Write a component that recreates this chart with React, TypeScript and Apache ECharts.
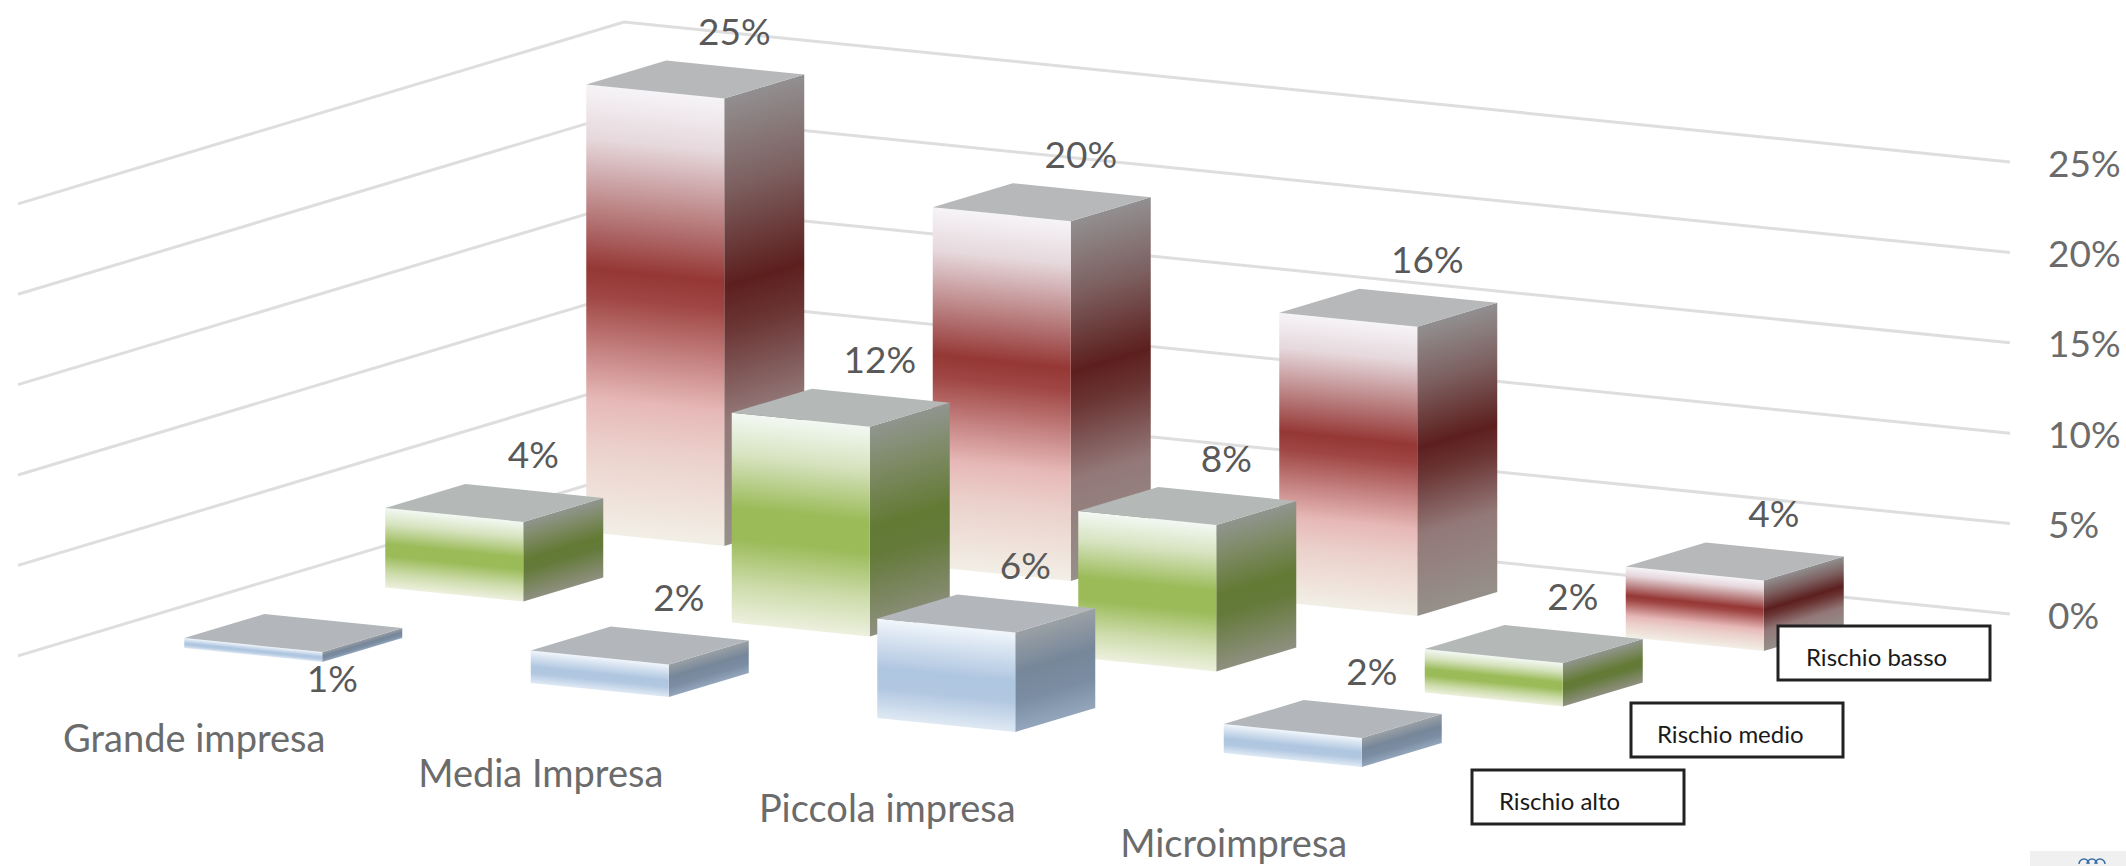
import React, { useEffect, useRef } from "react";
import * as echarts from "echarts";

const categories = ["Grande impresa", "Media Impresa", "Piccola impresa", "Microimpresa"];
const seriesNames = ["Rischio basso", "Rischio medio", "Rischio alto"];
const rischioBasso = [24.75, 19.9, 16, 3.9];
const rischioMedio = [4.4, 11.6, 8.1, 2.4];
const rischioAlto = [0.55, 1.8, 5.5, 1.6];
const axisTicks = [0, 5, 10, 15, 20, 25];

const FONT = "Lato, Carlito, sans-serif";
const SHEAR = 0.101;
const WALL_SLOPE = 0.3;
const W = [138, 14];
const D = [80, -24];
const DEPTH_X = [0, -201, -402];
const DEPTH_Y = [0, 55.5, 116];
const BAR_OFFSET = [-211, 40.5];

const palettes = [
  {
    top: "#b7b8ba",
    front: [[0, "#f6f4f8"], [0.12, "#e6d8dc"], [0.41, "#953735"], [0.47, "#9f4644"], [0.7, "#e6b8b7"], [0.8, "#ebcfca"], [1, "#f2efe6"]],
    side: [[0, "#928f90"], [0.2, "#7d6060"], [0.42, "#5c1f1e"], [0.52, "#6b3635"], [0.72, "#937878"], [1, "#96908a"]],
  },
  {
    top: "#b4b8b6",
    front: [[0, "#f3f8f3"], [0.2, "#d6e3bf"], [0.45, "#9bbb59"], [0.6, "#9bbb59"], [0.82, "#cddcab"], [1, "#edf0de"]],
    side: [[0, "#91958f"], [0.22, "#7d8a64"], [0.48, "#637a35"], [0.62, "#647a3a"], [1, "#8f9080"]],
  },
  {
    top: "#b3b7bb",
    front: [[0, "#f1f6fb"], [0.22, "#d3e0ef"], [0.5, "#afc6e0"], [0.7, "#b2c8e1"], [1, "#dfe9f4"]],
    side: [[0, "#9aa0a5"], [0.4, "#77879a"], [0.7, "#7b8da3"], [1, "#94a6bb"]],
  },
];

// Projects a (category, depth, value) triple through the cartesian axes onto the oblique floor.
function project(api: any, params: any, cat: number, depth: number, v: number) {
  const p = api.coord([cat, v]);
  const rightX = params.coordSys.x + params.coordSys.width;
  return [
    p[0] + BAR_OFFSET[0] + DEPTH_X[depth],
    p[1] - (rightX - p[0]) * SHEAR + BAR_OFFSET[1] + DEPTH_Y[depth],
  ];
}

function skewGradient(start: number[], along: number[], h: number, stops: any[]) {
  const len = Math.hypot(along[0], along[1]);
  const nx = -along[1] / len;
  const ny = along[0] / len;
  const dist = h * ny;
  return {
    type: "linear",
    global: true,
    x: start[0],
    y: start[1],
    x2: start[0] + nx * dist,
    y2: start[1] + ny * dist,
    colorStops: stops.map(([offset, color]) => ({ offset, color })),
  };
}

function barRenderer(depth: number) {
  return (params: any, api: any) => {
    const cat = api.value(0);
    const v = api.value(1);
    const P = project(api, params, cat, depth, v);
    const h = project(api, params, cat, depth, 0)[1] - P[1];
    const pal = palettes[depth];
    const add = (a: number[], b: number[]) => [a[0] + b[0], a[1] + b[1]];
    const down = [0, h];
    const PW = add(P, W);
    const PWD = add(PW, D);
    const PD = add(P, D);
    return {
      type: "group",
      children: [
        {
          type: "polygon",
          shape: { points: [PW, PWD, add(PWD, down), add(PW, down)] },
          style: { fill: skewGradient(PW, D, h, pal.side) },
        },
        {
          type: "polygon",
          shape: { points: [P, PW, add(PW, down), add(P, down)] },
          style: { fill: skewGradient(P, W, h, pal.front) },
        },
        {
          type: "polygon",
          shape: { points: [P, PD, PWD, PW] },
          style: { fill: pal.top },
        },
      ],
    };
  };
}

export default function App() {
  const ref = useRef<HTMLDivElement>(null);
  useEffect(() => {
    document.body.style.margin = "0";
    const chart = echarts.init(ref.current!, undefined, { renderer: "svg" });
    const allSeries = [rischioBasso, rischioMedio, rischioAlto];
    const labelData: any[] = [];
    allSeries.forEach((vals, depth) =>
      vals.forEach((v, i) => labelData.push([categories[i], v, depth]))
    );
    const boxes = [
      { x: 1778, y: 626, tx: 1806, name: seriesNames[0] },
      { x: 1631, y: 703, tx: 1657, name: seriesNames[1] },
      { x: 1472, y: 770, tx: 1499, name: seriesNames[2] },
    ];
    chart.setOption({
      animation: false,
      backgroundColor: "#ffffff",
      grid: { left: 624, top: 162, width: 1386, height: 452, containLabel: false },
      xAxis: {
        type: "category",
        data: categories,
        axisLine: { show: false },
        axisTick: { show: false },
        axisLabel: { show: false },
        splitLine: { show: false },
      },
      yAxis: {
        type: "value",
        position: "right",
        min: 0,
        max: 25,
        interval: 5,
        axisLine: { show: false },
        axisTick: { show: false },
        splitLine: { show: false },
        axisLabel: {
          margin: 38,
          formatter: "{value}%",
          fontFamily: FONT,
          fontSize: 37,
          color: "#6b6b6b",
        },
      },
      series: [
        {
          type: "custom",
          name: "griglia",
          z: 1,
          silent: true,
          data: axisTicks.map((t) => [categories[0], t]),
          renderItem: (params: any, api: any) => {
            const y = api.coord([0, api.value(1)])[1];
            const cs = params.coordSys;
            const right = cs.x + cs.width;
            const cornerY = y - cs.width * SHEAR;
            const leftX = 18;
            return {
              type: "polyline",
              shape: {
                points: [
                  [leftX, cornerY + (cs.x - leftX) * WALL_SLOPE],
                  [cs.x, cornerY],
                  [right, y],
                ],
              },
              style: { stroke: "#dedede", lineWidth: 3, fill: "none" },
            };
          },
        },
        ...allSeries.map((vals, depth) => ({
          type: "custom",
          name: seriesNames[depth],
          z: 2 + depth,
          silent: true,
          data: vals.map((v, i) => [categories[i], v]),
          renderItem: barRenderer(depth),
        })),
        {
          type: "custom",
          name: "etichette",
          z: 10,
          silent: true,
          data: labelData,
          renderItem: (params: any, api: any) => {
            const v = api.value(1);
            const depth = api.value(2);
            const P = project(api, params, api.value(0), depth, v);
            const below = v < 1;
            return {
              type: "text",
              x: P[0] + 148,
              y: P[1] + (below ? 39 : -54),
              style: {
                text: Math.round(v) + "%",
                fontFamily: FONT,
                fontSize: 37,
                fill: "#595959",
                align: "center",
                verticalAlign: "middle",
              },
            };
          },
        },
        {
          type: "custom",
          name: "categorie",
          z: 10,
          silent: true,
          data: categories.map((c) => [c, 0]),
          renderItem: (params: any, api: any) => {
            const P = project(api, params, api.value(0), 0, 0);
            return {
              type: "text",
              x: P[0] - 392,
              y: P[1] + 205,
              style: {
                text: categories[params.dataIndex],
                fontFamily: FONT,
                fontSize: 38,
                fill: "#6b6b6b",
                align: "center",
                verticalAlign: "middle",
              },
            };
          },
        },
      ],
      graphic: [
        ...boxes.flatMap((b) => [
          {
            type: "rect",
            z: 100,
            silent: true,
            shape: { x: b.x, y: b.y, width: 212, height: 54 },
            style: { fill: "#ffffff", stroke: "#222222", lineWidth: 3 },
          },
          {
            type: "text",
            z: 101,
            silent: true,
            x: b.tx,
            y: b.y + 30,
            style: {
              text: b.name,
              fontFamily: FONT,
              fontSize: 24,
              fill: "#1a1a1a",
              align: "left",
              verticalAlign: "middle",
            },
          },
        ]),
        {
          type: "rect",
          silent: true,
          z: 100,
          shape: { x: 2030, y: 851, width: 96, height: 15 },
          style: { fill: "#f0f0f0" },
        },
        ...[2084, 2092, 2100].map((cx) => ({
          type: "arc",
          silent: true,
          z: 101,
          shape: { cx, cy: 864, r: 5, startAngle: Math.PI, endAngle: Math.PI * 2 },
          style: { stroke: "#3a6ea5", lineWidth: 1.5, fill: "none" },
        })),
      ],
    });
    return () => chart.dispose();
  }, []);
  return <div ref={ref} style={{ width: 2126, height: 866, display: "block" }} />;
}
